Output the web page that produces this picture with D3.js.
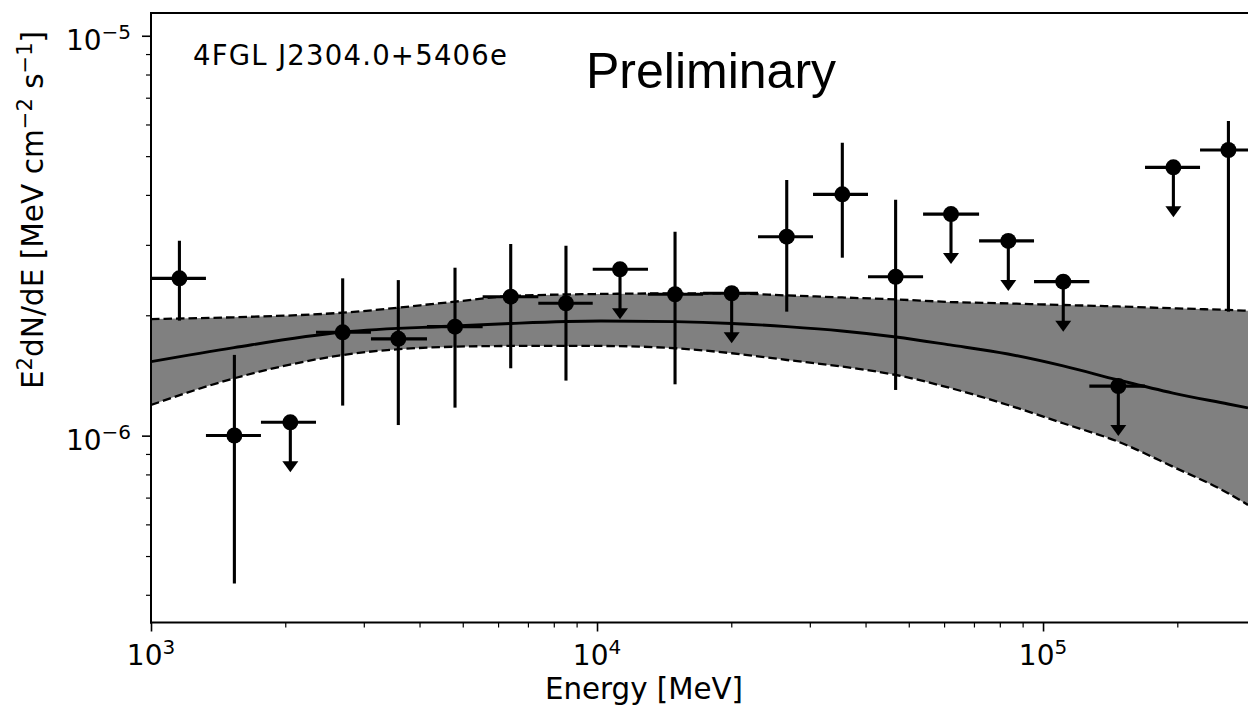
<!DOCTYPE html>
<html>
<head>
<meta charset="utf-8">
<script src="https://cdn.jsdelivr.net/npm/d3@7"></script>
<style>
  body { margin: 0; background: #fff; }
  svg text { font-family: "DejaVu Sans", sans-serif; fill: #000; }
</style>
</head>
<body>
<svg id="chart" width="1248" height="711"></svg>
<script>
// ==================== DATA ====================
// SED points (MeV, MeV cm-2 s-1)
const energy = [1158, 1538, 2053, 2690, 3585, 4804, 6405, 8519, 11260, 14960,
                20040, 26630, 35480, 46720, 62180, 83590, 111000, 147500, 196000, 260400];
const eLow   = [1000, 1328, 1764, 2344, 3113, 4157, 5541, 7385, 9781, 13010,
                17290, 22960, 30500, 40510, 53830, 71880, 95460, 127000, 169300, 224900];
const eHigh  = [1328, 1764, 2344, 3113, 4157, 5541, 7385, 9781, 13010, 17290,
                22960, 30500, 40510, 53830, 71880, 95460, 127000, 169300, 224900, 298800];
const flux   = [2.474e-6, 1.001e-6, 1.080e-6, 1.813e-6, 1.746e-6, 1.873e-6, 2.226e-6, 2.143e-6, 2.606e-6, 2.257e-6,
                2.270e-6, 3.144e-6, 4.012e-6, 2.497e-6, 3.581e-6, 3.069e-6, 2.427e-6, 1.330e-6, 4.688e-6, 5.180e-6];
const fluxHi = [3.073e-6, 1.592e-6, null, 2.474e-6, 2.449e-6, 2.630e-6, 3.013e-6, 2.985e-6, null, 3.236e-6,
                null, 4.356e-6, 5.401e-6, 3.890e-6, null, null, null, null, null, 6.124e-6];
const fluxLo = [1.939e-6, 4.27e-7, null, 1.189e-6, 1.063e-6, 1.175e-6, 1.474e-6, 1.373e-6, null, 1.344e-6,
                null, 2.042e-6, 2.786e-6, 1.301e-6, null, null, null, null, null, 2.042e-6];
const isUL   = [0, 0, 1, 0, 0, 0, 0, 0, 1, 0, 1, 0, 0, 0, 1, 1, 1, 1, 1, 0];

// model curve + butterfly band
const modelE  = [1000, 1535, 2695, 4804, 6416, 10160, 14960, 20070, 26670, 35430,
                 46820, 61870, 83450, 110900, 147300, 195600, 259900, 288100];
const modelF  = [1.531e-6, 1.660e-6, 1.816e-6, 1.880e-6, 1.908e-6, 1.935e-6, 1.928e-6, 1.908e-6, 1.873e-6, 1.827e-6,
                 1.765e-6, 1.686e-6, 1.600e-6, 1.494e-6, 1.378e-6, 1.278e-6, 1.200e-6, 1.173e-6];
const bandHi  = [1.957e-6, 1.977e-6, 2.030e-6, 2.163e-6, 2.235e-6, 2.261e-6, 2.268e-6, 2.268e-6, 2.242e-6, 2.216e-6,
                 2.191e-6, 2.159e-6, 2.141e-6, 2.122e-6, 2.104e-6, 2.082e-6, 2.062e-6, 2.053e-6];
const bandLo  = [1.193e-6, 1.391e-6, 1.591e-6, 1.669e-6, 1.676e-6, 1.676e-6, 1.654e-6, 1.607e-6, 1.546e-6, 1.488e-6,
                 1.418e-6, 1.316e-6, 1.193e-6, 1.074e-6, 9.66e-7, 8.36e-7, 7.18e-7, 6.71e-7];

// axis ticks
const xMajor = [1e3, 1e4, 1e5];
const xMajorExp = ["3", "4", "5"];
const xMinor = [2e3,3e3,4e3,5e3,6e3,7e3,8e3,9e3, 2e4,3e4,4e4,5e4,6e4,7e4,8e4,9e4, 2e5];
const yMajor = [1e-6, 1e-5];
const yMajorExp = ["\u22126", "\u22125"];
const yMinor = [4e-7,5e-7,6e-7,7e-7,8e-7,9e-7, 2e-6,3e-6,4e-6,5e-6,6e-6,7e-6,8e-6,9e-6];

// ==================== LAYOUT ====================
const mLeft = 151, mRight = 1248, mTop = 13, mBottom = 622.5;

const x = d3.scaleLog().domain([1e3, 2.881e5]).range([mLeft, mRight]);
const y = d3.scaleLog().domain([3.41e-7, 1.14e-5]).range([mBottom, mTop]);

const svg = d3.select("#chart");

svg.append("defs").append("clipPath").attr("id", "plotClip")
  .append("rect").attr("x", mLeft).attr("y", mTop)
  .attr("width", mRight - mLeft).attr("height", mBottom - mTop);

const plot = svg.append("g").attr("clip-path", "url(#plotClip)");

// ==================== BAND + MODEL ====================
const bandIdx = d3.range(modelE.length);

plot.append("path")
  .attr("fill", "#808080")
  .attr("d", d3.area()
    .x(i => x(modelE[i])).y0(i => y(bandLo[i])).y1(i => y(bandHi[i]))
    .curve(d3.curveMonotoneX)(bandIdx));

[bandHi, bandLo].forEach(arr => {
  plot.append("path")
    .attr("fill", "none").attr("stroke", "#000")
    .attr("stroke-width", 2.3).attr("stroke-dasharray", "8.5,4")
    .attr("d", d3.line().x(i => x(modelE[i])).y(i => y(arr[i]))
      .curve(d3.curveMonotoneX)(bandIdx));
});

plot.append("path")
  .attr("fill", "none").attr("stroke", "#000").attr("stroke-width", 2.9)
  .attr("d", d3.line().x(i => x(modelE[i])).y(i => y(modelF[i]))
    .curve(d3.curveMonotoneX)(bandIdx));

// ==================== POINTS ====================
const pts = plot.append("g").attr("stroke", "#000").attr("stroke-width", 3.1);
const arrowLen = 50;

energy.forEach((e, i) => {
  const cx = x(e), cy = y(flux[i]);
  pts.append("line").attr("x1", x(eLow[i])).attr("x2", x(eHigh[i]))
    .attr("y1", cy).attr("y2", cy);
  if (isUL[i]) {
    pts.append("line").attr("x1", cx).attr("x2", cx)
      .attr("y1", cy).attr("y2", cy + arrowLen - 8);
    pts.append("path")
      .attr("stroke", "none").attr("fill", "#000")
      .attr("d", `M${cx - 8},${cy + arrowLen - 11}L${cx + 8},${cy + arrowLen - 11}L${cx},${cy + arrowLen}Z`);
  } else {
    pts.append("line").attr("x1", cx).attr("x2", cx)
      .attr("y1", y(fluxHi[i])).attr("y2", y(fluxLo[i]));
  }
  pts.append("circle").attr("cx", cx).attr("cy", cy).attr("r", 8)
    .attr("fill", "#000").attr("stroke", "none");
});

// ==================== AXES ====================
function styleAxis(g, w) {
  g.select(".domain").remove();
  g.selectAll(".tick line").attr("stroke", "#000").attr("stroke-width", w);
  g.selectAll(".tick text").remove();
}

svg.append("g").attr("transform", `translate(0,${mBottom})`)
  .call(d3.axisBottom(x).tickValues(xMajor).tickSize(9).tickFormat(() => ""))
  .call(g => styleAxis(g, 1.6));
svg.append("g").attr("transform", `translate(0,${mBottom})`)
  .call(d3.axisBottom(x).tickValues(xMinor).tickSize(5).tickFormat(() => ""))
  .call(g => styleAxis(g, 1.2));
svg.append("g").attr("transform", `translate(${mLeft},0)`)
  .call(d3.axisLeft(y).tickValues(yMajor).tickSize(9).tickFormat(() => ""))
  .call(g => styleAxis(g, 1.6));
svg.append("g").attr("transform", `translate(${mLeft},0)`)
  .call(d3.axisLeft(y).tickValues(yMinor).tickSize(5).tickFormat(() => ""))
  .call(g => styleAxis(g, 1.2));

// spines (right side falls outside the picture)
const spines = svg.append("g").attr("stroke", "#000").attr("stroke-width", 2);
spines.append("line").attr("x1", mLeft).attr("x2", mLeft).attr("y1", mTop - 1).attr("y2", mBottom + 1);
spines.append("line").attr("x1", mLeft - 1).attr("x2", mRight).attr("y1", mBottom).attr("y2", mBottom);
spines.append("line").attr("x1", mLeft - 1).attr("x2", mRight).attr("y1", mTop).attr("y2", mTop);

// tick labels: 10^n
function powLabel(sel, exp) {
  sel.append("tspan").text("10");
  sel.append("tspan").attr("font-size", 20).attr("dy", -11).text(exp);
}
xMajor.forEach((v, i) => {
  svg.append("text").attr("x", x(v)).attr("y", 665)
    .attr("text-anchor", "middle").attr("font-size", 28).attr("fill", "#111")
    .call(powLabel, xMajorExp[i]);
});
yMajor.forEach((v, i) => {
  svg.append("text").attr("x", 131).attr("y", y(v) + 14.3)
    .attr("text-anchor", "end").attr("font-size", 28).attr("fill", "#111")
    .call(powLabel, yMajorExp[i]);
});

// axis titles
svg.append("text").attr("x", 644).attr("y", 699)
  .attr("text-anchor", "middle").attr("font-size", 29.3).text("Energy [MeV]");

const yl = svg.append("text").attr("transform", "translate(43,210) rotate(-90)")
  .attr("text-anchor", "middle").attr("font-size", 29.6);
yl.append("tspan").text("E");
yl.append("tspan").attr("font-size", 21).attr("dy", -11.5).text("2");
yl.append("tspan").attr("dy", 11.5).text("dN/dE [MeV cm");
yl.append("tspan").attr("font-size", 21).attr("dy", -11.5).text("\u22122");
yl.append("tspan").attr("dy", 11.5).text(" s");
yl.append("tspan").attr("font-size", 21).attr("dy", -11.5).text("\u22121");
yl.append("tspan").attr("dy", 11.5).text("]");

// annotations
svg.append("text").attr("x", 193).attr("y", 65).attr("font-size", 27.5)
  .attr("textLength", 314).attr("lengthAdjust", "spacing")
  .text("4FGL J2304.0+5406e");
svg.append("text").attr("x", 586).attr("y", 88)
  .style("font-family", "'Liberation Sans', Arial, sans-serif")
  .attr("font-size", 50).text("Preliminary");
</script>
</body>
</html>
